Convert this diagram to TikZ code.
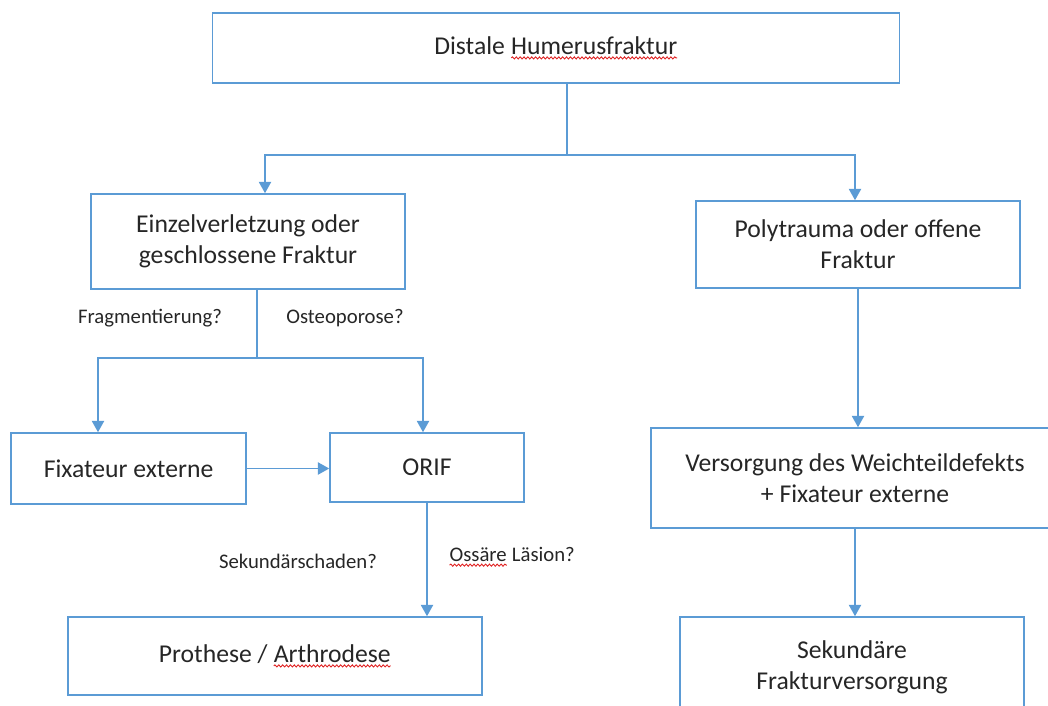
\documentclass[tikz,border=0pt]{standalone}
\usepackage{fontspec}
\setmainfont{Carlito}
\usepackage{xcolor}
\usepackage{tikz}
\usetikzlibrary{
  arrows.meta,
  positioning,
  decorations.pathmorphing,
}
\definecolor{flowblue}{HTML}{5B9BD5}
\definecolor{inkgray}{HTML}{262626}
\definecolor{spellred}{HTML}{E02020}

\newcommand{\wavy}[1]{\tikz[baseline=(w.base)]{%
  \node[inner sep=0pt, outer sep=0pt, minimum width=0pt, minimum height=0pt,
    draw=none, fill=none] (w) {#1};
  \draw[-, spellred, line width=0.5pt, decorate,
    decoration={snake, amplitude=0.6pt, segment length=2.2pt}]
    ([yshift=-2pt]w.base west) -- ([yshift=-2pt]w.base east);}}

\begin{document}
\begin{tikzpicture}[x=0.02cm, y=-0.02cm, line width=0.9pt,
  box/.style={draw=flowblue, line width=0.9pt, fill=white, text=inkgray,
    align=center, font=\fontsize{14.6}{17.8}\selectfont, inner sep=2pt},
  cue/.style={text=inkgray, font=\fontsize{11.8}{14}\selectfont},
  link/.style={draw=flowblue, line width=0.9pt},
  arr/.style={link, -{Triangle[width=7pt, length=6.5pt]}}]
  \useasboundingbox (0,0) rectangle (1048,706);
  \clip (0,0) rectangle (1048,706);

  \node[box, minimum width=13.74cm, minimum height=1.4cm] (top) at (556,48)
    {Distale \wavy{Humerusfraktur}};

  \node[box, minimum width=6.28cm, minimum height=1.9cm] (einzel) at (248,241.5)
    {Einzelverletzung oder\\geschlossene Fraktur};
  \node[box, minimum width=6.48cm, minimum height=1.74cm] (poly) at (858,244.5)
    {Polytrauma oder offene\\Fraktur};

  \node[box, minimum width=4.7cm, minimum height=1.42cm] (fix) at (128.5,468.5)
    {Fixateur externe};
  \node[box, minimum width=3.88cm, minimum height=1.38cm] (orif) at (427,467.5)
    {ORIF};
  \node[box, minimum width=8.16cm, minimum height=2.0cm] (vers) at (855,478)
    {Versorgung des Weichteildefekts\\+ Fixateur externe};

  \node[box, minimum width=8.28cm, minimum height=1.56cm] (proth) at (275,656)
    {Prothese / \wavy{Arthrodese}};
  \node[box, minimum width=6.88cm, minimum height=2.02cm] (sek) at (852,667.5)
    {Sekundäre\\Frakturversorgung};

  % first split
  \coordinate (hub1) at (567,155);
  \coordinate (hubL) at (265,155);
  \coordinate (hubR) at (855,155);
  \draw[link] (top.south -| hub1) -- (hub1);
  \draw[arr] (hub1) -- (hubL) -- (hubL |- einzel.north);
  \draw[arr] (hub1) -- (hubR) -- (hubR |- poly.north);

  % left branch
  \coordinate (hub2) at (257,358);
  \coordinate (splitL) at (98,358);
  \coordinate (splitR) at (423,358);
  \draw[link] (einzel.south -| hub2) -- (hub2);
  \draw[arr] (hub2) -- (splitL) -- (splitL |- fix.north);
  \draw[arr] (hub2) -- (splitR) -- (splitR |- orif.north);
  \node[cue] (frag) at (150,318) {Fragmentierung?};
  \node[cue] (osteo) at (345,318) {Osteoporose?};

  \draw[arr] (fix.east) -- (fix.east -| orif.west);
  \draw[arr] (orif.south) -- (orif.south |- proth.north);
  \node[cue] (sekschad) at (298,561) {Sekundärschaden?};
  \node[cue] (ossaer) at (512,557) {\wavy{Ossäre} Läsion?};

  % right branch
  \draw[arr] (poly.south) -- (poly.south |- vers.north);
  \draw[arr] (vers.south) -- (vers.south |- sek.north);
\end{tikzpicture}
\end{document}
